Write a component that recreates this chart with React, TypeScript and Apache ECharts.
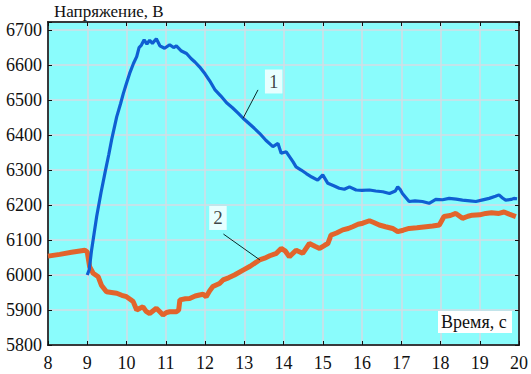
import React, { useEffect, useRef } from "react";
import * as echarts from "echarts";

const blueT = [9.0, 9.05, 9.11, 9.24, 9.35, 9.45, 9.55, 9.62, 9.75, 9.85, 9.92, 10.0, 10.08, 10.18, 10.26, 10.32, 10.38, 10.45, 10.52, 10.59, 10.66, 10.76, 10.85, 10.97, 11.1, 11.2, 11.27, 11.4, 11.53, 11.65, 11.75, 11.86, 12.0, 12.12, 12.25, 12.4, 12.55, 12.7, 12.85, 12.97, 13.1, 13.25, 13.39, 13.55, 13.73, 13.86, 13.94, 14.07, 14.24, 14.32, 14.45, 14.58, 14.72, 14.87, 15.0, 15.13, 15.28, 15.42, 15.55, 15.68, 15.85, 16.0, 16.19, 16.35, 16.53, 16.7, 16.85, 16.91, 16.97, 17.03, 17.2, 17.35, 17.54, 17.71, 17.88, 18.05, 18.22, 18.4, 18.56, 18.75, 18.9, 19.05, 19.24, 19.4, 19.49, 19.58, 19.66, 19.8, 19.87, 19.95];
const blueV = [6000, 6015, 6071, 6167, 6235, 6291, 6345, 6386, 6452, 6490, 6519, 6548, 6576, 6605, 6624, 6650, 6657, 6672, 6660, 6671, 6662, 6675, 6655, 6648, 6658, 6650, 6655, 6640, 6633, 6618, 6608, 6595, 6575, 6555, 6530, 6512, 6492, 6478, 6462, 6448, 6435, 6420, 6405, 6385, 6367, 6376, 6348, 6352, 6324, 6309, 6300, 6290, 6280, 6271, 6286, 6262, 6255, 6248, 6245, 6252, 6243, 6242, 6243, 6240, 6238, 6233, 6240, 6252, 6245, 6233, 6210, 6212, 6210, 6205, 6216, 6215, 6219, 6217, 6214, 6212, 6210, 6214, 6219, 6225, 6229, 6220, 6214, 6216, 6219, 6218];

const orangeT = [8.0, 8.3, 8.6, 8.94, 9.0, 9.03, 9.06, 9.15, 9.28, 9.36, 9.49, 9.62, 9.75, 9.88, 10.0, 10.1, 10.17, 10.26, 10.34, 10.42, 10.5, 10.59, 10.68, 10.76, 10.85, 10.93, 11.02, 11.1, 11.27, 11.33, 11.36, 11.5, 11.61, 11.75, 11.86, 11.95, 12.03, 12.12, 12.2, 12.37, 12.46, 12.6, 12.75, 12.97, 13.15, 13.39, 13.52, 13.65, 13.82, 13.94, 14.05, 14.15, 14.32, 14.49, 14.66, 14.8, 14.92, 15.05, 15.13, 15.21, 15.35, 15.51, 15.65, 15.76, 15.9, 16.02, 16.19, 16.3, 16.44, 16.6, 16.78, 16.91, 17.05, 17.2, 17.4, 17.63, 17.8, 17.97, 18.09, 18.25, 18.39, 18.56, 18.7, 18.81, 19.0, 19.15, 19.3, 19.49, 19.62, 19.75, 19.92];
const orangeV = [6054, 6059, 6065, 6071, 6066, 6045, 6024, 6005, 5995, 5971, 5952, 5950, 5948, 5942, 5938, 5930, 5924, 5900, 5905, 5909, 5896, 5890, 5898, 5905, 5895, 5886, 5893, 5895, 5895, 5900, 5929, 5932, 5933, 5940, 5943, 5945, 5938, 5955, 5967, 5976, 5986, 5992, 6000, 6014, 6025, 6043, 6048, 6055, 6062, 6076, 6068, 6052, 6071, 6062, 6090, 6082, 6076, 6085, 6090, 6114, 6120, 6129, 6133, 6138, 6145, 6148, 6155, 6150, 6143, 6138, 6133, 6124, 6128, 6133, 6135, 6138, 6140, 6143, 6167, 6170, 6176, 6162, 6168, 6171, 6172, 6176, 6178, 6176, 6180, 6174, 6167];

const xTicks = [8, 20, 1];
const yTicks = [5800, 6723, 100];

const leader1 = [[13.35, 6529], [12.97, 6448]];
const leader2 = [[12.47, 6117], [13.4, 6043]];
const labelPts = [
  { name: "1", value: [13.75, 6553] },
  { name: "2", value: [12.33, 6163] },
];

const SERIF = "Liberation Serif";

export default function App() {
  const ref = useRef<HTMLDivElement>(null);
  useEffect(() => {
    if (!ref.current) return;
    const chart = echarts.init(ref.current, undefined, { renderer: "svg" });
    const zip = (t: number[], v: number[]) => t.map((x, i) => [x, v[i]]);
    const tickFmt = (v: number) => (v % 100 === 0 ? String(v) : "");
    chart.setOption({
      animation: false,
      backgroundColor: "#ffffff",
      textStyle: { fontFamily: SERIF },
      title: {
        text: "Напряжение, В",
        left: 54,
        top: 3,
        padding: 0,
        textStyle: { fontFamily: SERIF, fontSize: 17, fontWeight: "normal", color: "#111" },
      },
      grid: {
        left: 48,
        right: 11,
        top: 22,
        bottom: 29,
        show: true,
        backgroundColor: "#8afcfc",
        borderColor: "#111",
        borderWidth: 1.5,
      },
      xAxis: [
        {
          type: "value",
          min: xTicks[0],
          max: xTicks[1],
          interval: xTicks[2],
          axisLine: { show: true, lineStyle: { color: "#111", width: 1.5 } },
          axisTick: { show: true, inside: true, length: 4, lineStyle: { color: "#111" } },
          axisLabel: { fontFamily: SERIF, fontSize: 18, color: "#111", margin: 9 },
          splitLine: { show: true, lineStyle: { color: "#d4dce4", width: 1.5 } },
        },
        {
          type: "value",
          position: "top",
          min: xTicks[0],
          max: xTicks[1],
          interval: xTicks[2],
          axisLine: { show: true, lineStyle: { color: "#111", width: 1.5 } },
          axisTick: { show: true, inside: true, length: 4, lineStyle: { color: "#111" } },
          axisLabel: { show: false },
          splitLine: { show: false },
        },
      ],
      yAxis: [
        {
          type: "value",
          min: yTicks[0],
          max: yTicks[1],
          interval: yTicks[2],
          axisLine: { show: true, lineStyle: { color: "#111", width: 1.5 } },
          axisTick: { show: true, inside: true, length: 4, lineStyle: { color: "#111" } },
          axisLabel: { fontFamily: SERIF, fontSize: 18, color: "#111", margin: 6, formatter: tickFmt },
          splitLine: { show: true, lineStyle: { color: "#d4dce4", width: 1.5 } },
        },
        {
          type: "value",
          position: "right",
          min: yTicks[0],
          max: yTicks[1],
          interval: yTicks[2],
          axisLine: { show: true, lineStyle: { color: "#111", width: 1.5 } },
          axisTick: { show: true, inside: true, length: 4, lineStyle: { color: "#111" } },
          axisLabel: { show: false },
          splitLine: { show: false },
        },
      ],
      series: [
        {
          type: "line",
          data: zip(blueT, blueV),
          symbol: "none",
          lineStyle: { color: "#0f5fd2", width: 3.2 },
          z: 3,
        },
        {
          type: "line",
          data: zip(orangeT, orangeV),
          symbol: "none",
          lineStyle: { color: "#e2642c", width: 5 },
          z: 2,
        },
        {
          type: "line",
          data: leader1,
          symbol: "none",
          lineStyle: { color: "#0a2a2a", width: 1 },
          z: 4,
        },
        {
          type: "line",
          data: leader2,
          symbol: "none",
          lineStyle: { color: "#0a2a2a", width: 1 },
          z: 4,
        },
        {
          type: "scatter",
          data: labelPts,
          symbolSize: 0,
          z: 5,
          label: {
            show: true,
            position: "inside",
            formatter: (p: any) => p.name,
            fontFamily: SERIF,
            fontSize: 19,
            color: "#111",
            backgroundColor: "#ffffff",
            padding: [3, 4, 2, 4],
          },
        },
      ],
      graphic: [
        {
          type: "rect",
          left: 438,
          top: 311,
          shape: { width: 74, height: 22 },
          style: { fill: "#ffffff" },
          z: 10,
        },
        {
          type: "text",
          left: 441,
          top: 313,
          style: { text: "Время, с", fontFamily: SERIF, fontSize: 18, fill: "#111" },
          z: 11,
        },
      ],
    });
    return () => chart.dispose();
  }, []);
  return (
    <div
      ref={ref}
      style={{ position: "fixed", left: 0, top: 0, width: 531, height: 374 }}
    />
  );
}
